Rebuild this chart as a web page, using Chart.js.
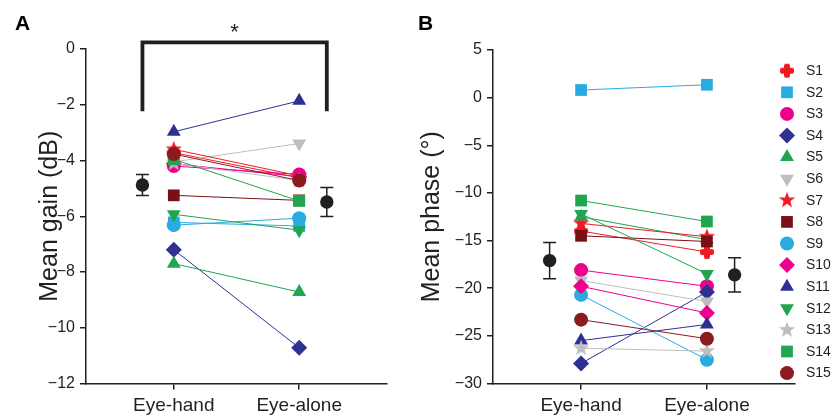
<!DOCTYPE html>
<html><head><meta charset="utf-8">
<script src="https://cdn.jsdelivr.net/npm/chart.js"></script>
<style>
html,body{margin:0;padding:0;background:#fff;}
#wrap{position:relative;width:837px;height:420px;overflow:hidden;}
canvas{position:absolute;left:0;top:0;}
</style></head><body>
<div id="wrap"><canvas id="cA" width="837" height="420"></canvas><canvas id="cB" width="837" height="420"></canvas></div>
<script>
// ---------- data ----------
const categories = ['Eye-hand', 'Eye-alone'];
const subjects = ['S1','S2','S3','S4','S5','S6','S7','S8','S9','S10','S11','S12','S13','S14','S15'];
const gainHand  = [-3.72, -6.22, -4.20, -7.20, -7.70, -4.05, -3.60, -5.25, -6.32, -4.12, -2.97, -5.93, -4.10, -3.96, -3.77];
const gainAlone = [-4.62, -6.35, -4.50, -10.72, -8.72, -3.39, -4.55, -5.43, -6.07, -4.58, -1.86, -6.50, -4.72, -5.45, -4.72];
const phaseHand  = [-14.0, 0.8, -18.1, -27.9, -12.5, -19.2, -13.2, -14.5, -20.7, -19.8, -25.5, -12.2, -26.3, -10.8, -23.3];
const phaseAlone = [-16.2, 1.35, -19.8, -20.4, -14.9, -21.4, -14.6, -15.1, -27.5, -22.6, -23.8, -18.5, -26.6, -13.0, -25.3];
const gainMean = [-4.88, -5.49];
const gainErr = [0.38, 0.52];
const phaseMean = [-17.1, -18.6];
const phaseErr = [1.9, 1.8];
const meanPos = [-0.25, 1.22];          // x position of group means
const gainTicks = [0, -2, -4, -6, -8, -10, -12];
const phaseTicks = [5, 0, -5, -10, -15, -20, -25, -30];
const bracketTop = 0.24;                // significance bracket (dB)
const bracketLeg = -2.23;
const sigLabel = '*';

// ---------- styles ----------
const RED='#ED1C24', CYAN='#29ABE2', MAG='#EC008C', BLUE='#2E3192', GREEN='#1FA64F', GRAY='#BDBEC0', DRED='#7A1014', BROWN='#8A1B1F';
const INK = '#231F20';
function starImg(color){
  const c=document.createElement('canvas'); c.width=c.height=18;
  const g=c.getContext('2d'); g.fillStyle=color; g.beginPath();
  for(let k=0;k<10;k++){ const r=k%2?3.5:8.6; const a=-Math.PI/2+k*Math.PI/5; g.lineTo(9+r*Math.cos(a),9+r*Math.sin(a)); }
  g.closePath(); g.fill(); return c;
}
function plusImg(color){
  const c=document.createElement('canvas'); c.width=c.height=16;
  const g=c.getContext('2d'); g.fillStyle=color;
  const rr=(x,y,w,h,r)=>{g.beginPath();g.moveTo(x+r,y);g.arcTo(x+w,y,x+w,y+h,r);g.arcTo(x+w,y+h,x,y+h,r);g.arcTo(x,y+h,x,y,r);g.arcTo(x,y,x+w,y,r);g.closePath();g.fill();};
  rr(1,5,14,6,2); rr(5,1,6,14,2); return c;
}
const markers = [
  {c:RED,  s:plusImg(RED), r:8},
  {c:CYAN, s:'rect', r:8.3},
  {c:MAG,  s:'circle', r:7},
  {c:BLUE, s:'rectRot', r:8},
  {c:GREEN,s:'triangle', r:8},
  {c:GRAY, s:'triangle', r:8, rot:180},
  {c:RED,  s:starImg(RED), r:8},
  {c:DRED, s:'rect', r:8.3},
  {c:CYAN, s:'circle', r:7},
  {c:MAG,  s:'rectRot', r:8},
  {c:BLUE, s:'triangle', r:8},
  {c:GREEN,s:'triangle', r:8, rot:180},
  {c:GRAY, s:starImg(GRAY), r:8},
  {c:GREEN,s:'rect', r:8.3},
  {c:BROWN,s:'circle', r:7}
];

Chart.defaults.font.family = "'Liberation Sans', Arial, sans-serif";
Chart.defaults.color = INK;

function subjectSets(hand, alone){
  return subjects.map((lab,i)=>{
    const m = markers[i];
    return {
      label: lab,
      data: [{x:0, y:hand[i]}, {x:1, y:alone[i]}],
      borderColor: m.c, backgroundColor: m.c, borderWidth: 1,
      pointStyle: m.s, pointRadius: m.r, pointRotation: m.rot||0,
      pointBackgroundColor: m.c, pointBorderColor: m.c, pointBorderWidth: 0,
      order: 40 - i, clip: false
    };
  });
}
function meanSet(means){
  return {
    label: 'mean', data: means.map((v,k)=>({x: meanPos[k], y: v})),
    showLine: false, pointStyle: 'circle', pointRadius: 6.7,
    pointBackgroundColor: INK, pointBorderColor: INK, pointBorderWidth: 0, order: 1, clip: false
  };
}
const minus = v => String(v).replace('-', '\u2212');

const errorBars = {
  id: 'errorBars',
  afterDatasetsDraw(chart, args, o){
    const {ctx} = chart, x = chart.scales.x, y = chart.scales.y;
    ctx.save(); ctx.strokeStyle = INK; ctx.lineWidth = 1.5;
    o.means.forEach((m,k)=>{
      const px = x.getPixelForValue(meanPos[k]);
      const t = y.getPixelForValue(m + o.err[k]), b = y.getPixelForValue(m - o.err[k]);
      ctx.beginPath();
      ctx.moveTo(px,t); ctx.lineTo(px,b);
      ctx.moveTo(px-6.5,t); ctx.lineTo(px+6.5,t);
      ctx.moveTo(px-6.5,b); ctx.lineTo(px+6.5,b);
      ctx.stroke();
    });
    ctx.restore();
  }
};
const panelText = {
  id: 'panelText',
  afterDraw(chart, args, o){
    const {ctx} = chart;
    ctx.save(); ctx.fillStyle = '#000';
    ctx.font = "bold 21px 'Liberation Sans', Arial, sans-serif";
    ctx.textAlign = 'left'; ctx.textBaseline = 'alphabetic';
    ctx.fillText(o.letter, o.lx, 30);
    if (o.star) {
      const x = chart.scales.x;
      ctx.fillStyle = INK;
      ctx.font = "22px 'Liberation Sans', Arial, sans-serif";
      ctx.textAlign = 'center';
      ctx.fillText(sigLabel, x.getPixelForValue((meanPos[0]+meanPos[1])/2), 39);
    }
    ctx.restore();
  }
};
const subjLegend = {
  id: 'subjLegend',
  afterDraw(chart){
    const {ctx} = chart;
    ctx.save();
    ctx.font = "14px 'Liberation Sans', Arial, sans-serif";
    ctx.textBaseline = 'middle'; ctx.textAlign = 'left';
    subjects.forEach((lab,i)=>{
      const m = markers[i];
      const y = 70.7 + i*21.6;
      ctx.fillStyle = m.c; ctx.strokeStyle = m.c;
      Chart.helpers.drawPoint(ctx, {pointStyle: m.s, radius: m.r, rotation: m.rot||0, borderWidth: 0}, 787, y);
      ctx.fillStyle = INK;
      ctx.fillText(lab, 806, y + 0.5);
    });
    ctx.restore();
  }
};

function axes(yMin, yMax, yTicks, title, yWidth){
  const grid = {drawOnChartArea:false, drawTicks:true, tickLength:6, color:INK, lineWidth:1.5};
  const border = {color:INK, width:1.5};
  return {
    x: {type:'linear', min:-0.7, max:1.7,
        afterBuildTicks: s => { s.ticks = categories.map((c,i)=>({value:i})); },
        afterFit: s => { s.height = 36.5; },
        grid, border,
        ticks: {callback: v => categories[v], font:{size:19}, padding:5, maxRotation:0, autoSkip:false, color:INK}},
    y: {min:yMin, max:yMax,
        afterBuildTicks: s => { s.ticks = yTicks.map(v=>({value:v})); },
        afterFit: s => { s.width = yWidth; },
        grid, border,
        ticks: {callback: v => minus(v), font:{size:16}, padding:5, color:INK},
        title: {display:true, text:title, font:{size:25}, padding:{top:35,bottom:0}, color:INK}}
  };
}

new Chart(document.getElementById('cA'), {
  type: 'line',
  data: { datasets: [
    ...subjectSets(gainHand, gainAlone),
    meanSet(gainMean),
    { label:'bracket', data:[{x:meanPos[0],y:bracketLeg},{x:meanPos[0],y:bracketTop},{x:meanPos[1],y:bracketTop},{x:meanPos[1],y:bracketLeg}],
      borderColor:INK, borderWidth:3.8, pointRadius:0, borderJoinStyle:'miter', borderCapStyle:'butt', clip:false, order:0 }
  ]},
  options: {
    responsive:false, animation:false, events:[],
    layout:{padding:{left:0, top:49, right:450, bottom:0}},
    plugins:{legend:{display:false}, tooltip:{enabled:false},
      errorBars:{means:gainMean, err:gainErr}, panelText:{letter:'A', lx:15, star:true}},
    scales: axes(-12, 0, gainTicks, 'Mean gain (dB)', 86)
  },
  plugins:[errorBars, panelText]
});

new Chart(document.getElementById('cB'), {
  type: 'line',
  data: { datasets: [ ...subjectSets(phaseHand, phaseAlone), meanSet(phaseMean) ]},
  options: {
    responsive:false, animation:false, events:[],
    layout:{padding:{left:382, top:50, right:42, bottom:0}},
    plugins:{legend:{display:false}, tooltip:{enabled:false},
      errorBars:{means:phaseMean, err:phaseErr}, panelText:{letter:'B', lx:418, star:false}},
    scales: axes(-30, 5, phaseTicks, 'Mean phase (\u00B0)', 111)
  },
  plugins:[errorBars, panelText, subjLegend]
});
</script>
</body></html>
